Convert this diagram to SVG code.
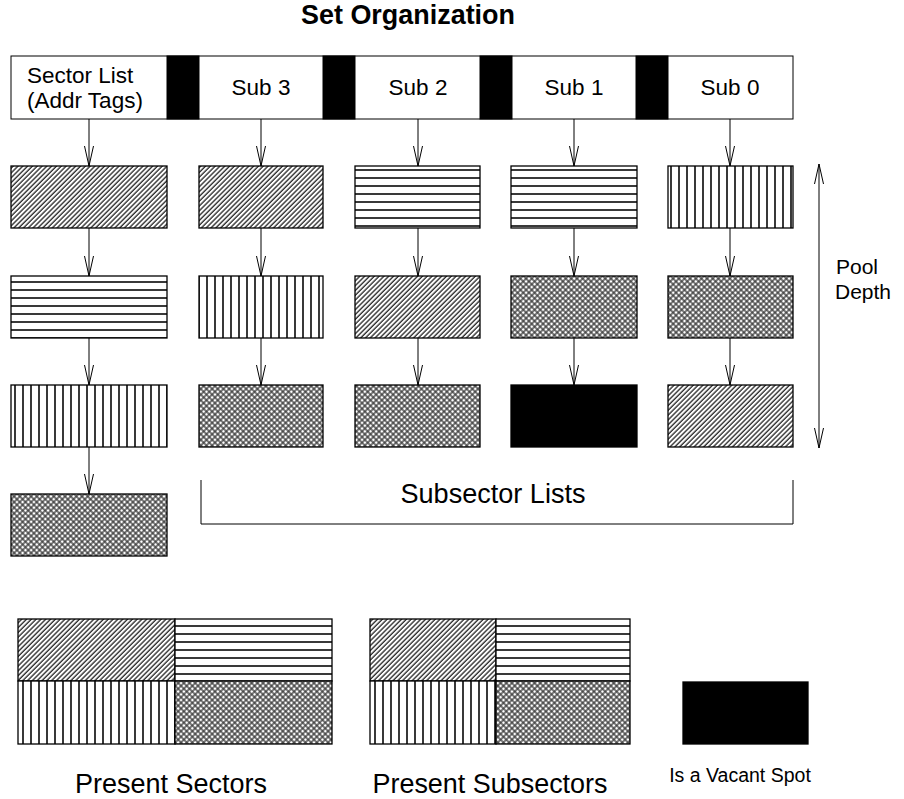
<svg xmlns="http://www.w3.org/2000/svg" width="904" height="799" viewBox="0 0 904 799">
<style>
text{font-family:"Liberation Sans",Arial,sans-serif;fill:#000}
.hdr{fill:#fff;stroke:#000;stroke-width:1}
.blk{fill:#000;stroke:#000;stroke-width:1}
.cell{stroke:#000;stroke-width:1.3}
.d{fill:url(#pd)}.h{fill:url(#ph)}.v{fill:url(#pv)}.x{fill:url(#px)}.k{fill:#000}
.ln{stroke:#000;stroke-width:1;fill:none}
.arr{stroke:#000;stroke-width:1;fill:none;marker-end:url(#ah)}
.lbl{font-size:22.5px}
.mid{text-anchor:middle}
</style>
<defs>
<pattern id="pd" patternUnits="userSpaceOnUse" width="3.4" height="10" patternTransform="rotate(45)">
<rect width="3.4" height="10" fill="#fff"/><line x1="1" y1="0" x2="1" y2="10" stroke="#222" stroke-width="1.3"/>
</pattern>
<pattern id="ph" patternUnits="userSpaceOnUse" width="10" height="8">
<rect width="10" height="8" fill="#fff"/><line x1="0" y1="2" x2="10" y2="2" stroke="#222" stroke-width="1.8"/>
</pattern>
<pattern id="pv" patternUnits="userSpaceOnUse" width="8" height="10" x="3">
<rect width="8" height="10" fill="#fff"/><line x1="4" y1="0" x2="4" y2="10" stroke="#222" stroke-width="1.8"/>
</pattern>
<pattern id="px" patternUnits="userSpaceOnUse" width="4" height="4" patternTransform="rotate(45)">
<rect width="4" height="4" fill="#fff"/><line x1="1" y1="0" x2="1" y2="4" stroke="#333" stroke-width="1.3"/><line x1="0" y1="1" x2="4" y2="1" stroke="#333" stroke-width="1.3"/>
</pattern>
<marker id="ah" markerUnits="userSpaceOnUse" viewBox="-21 -6 22 12" markerWidth="22" markerHeight="12" refX="0" refY="0" orient="auto-start-reverse">
<path d="M-20,-4.5 L0,0 L-20,4.5" fill="none" stroke="#000" stroke-width="1"/>
</marker>
</defs>

<text x="408" y="24" class="mid" font-size="27" font-weight="bold" textLength="214" lengthAdjust="spacingAndGlyphs">Set Organization</text>

<g id="header">
<rect class="hdr" x="11" y="56" width="782" height="63"/>
<rect class="blk" x="167" y="56" width="32" height="63"/>
<rect class="blk" x="323" y="56" width="32" height="63"/>
<rect class="blk" x="480" y="56" width="32" height="63"/>
<rect class="blk" x="636" y="56" width="32" height="63"/>
</g>
<g id="sector-list-head"><text class="lbl" x="27" y="83">Sector List</text><text class="lbl" x="27" y="108">(Addr Tags)</text></g>
<g id="sub3-head"><text class="lbl mid" x="261" y="95">Sub 3</text></g>
<g id="sub2-head"><text class="lbl mid" x="418" y="95">Sub 2</text></g>
<g id="sub1-head"><text class="lbl mid" x="574" y="95">Sub 1</text></g>
<g id="sub0-head"><text class="lbl mid" x="730" y="95">Sub 0</text></g>

<g id="connectors">
<line class="arr" x1="89" y1="119" x2="89" y2="166"/>
<line class="arr" x1="89" y1="228" x2="89" y2="276"/>
<line class="arr" x1="89" y1="338" x2="89" y2="385"/>
<line class="arr" x1="89" y1="447" x2="89" y2="494"/>
<line class="arr" x1="261" y1="119" x2="261" y2="166"/>
<line class="arr" x1="261" y1="228" x2="261" y2="276"/>
<line class="arr" x1="261" y1="338" x2="261" y2="385"/>
<line class="arr" x1="418" y1="119" x2="418" y2="166"/>
<line class="arr" x1="418" y1="228" x2="418" y2="276"/>
<line class="arr" x1="418" y1="338" x2="418" y2="385"/>
<line class="arr" x1="574" y1="119" x2="574" y2="166"/>
<line class="arr" x1="574" y1="228" x2="574" y2="276"/>
<line class="arr" x1="574" y1="338" x2="574" y2="385"/>
<line class="arr" x1="730" y1="119" x2="730" y2="166"/>
<line class="arr" x1="730" y1="228" x2="730" y2="276"/>
<line class="arr" x1="730" y1="338" x2="730" y2="385"/>
<line class="ln" x1="819" y1="164" x2="819" y2="448" marker-start="url(#ah)" marker-end="url(#ah)"/>
</g>

<g id="sector-col">
<rect class="cell d" x="11" y="166" width="156" height="62"/>
<rect class="cell h" x="11" y="276" width="156" height="62"/>
<rect class="cell v" x="11" y="385" width="156" height="62"/>
<rect class="cell x" x="11" y="494" width="156" height="62"/>
</g>
<g id="sub3-col">
<rect class="cell d" x="199" y="166" width="124" height="62"/>
<rect class="cell v" x="199" y="276" width="124" height="62"/>
<rect class="cell x" x="199" y="385" width="124" height="62"/>
</g>
<g id="sub2-col">
<rect class="cell h" x="355" y="166" width="125" height="62"/>
<rect class="cell d" x="355" y="276" width="125" height="62"/>
<rect class="cell x" x="355" y="385" width="125" height="62"/>
</g>
<g id="sub1-col">
<rect class="cell h" x="511" y="166" width="126" height="62"/>
<rect class="cell x" x="511" y="276" width="126" height="62"/>
<rect class="cell k" x="511" y="385" width="126" height="62"/>
</g>
<g id="sub0-col">
<rect class="cell v" x="668" y="166" width="125" height="62"/>
<rect class="cell x" x="668" y="276" width="125" height="62"/>
<rect class="cell d" x="668" y="385" width="125" height="62"/>
</g>

<g id="pool-depth"><text x="836" y="274" font-size="21">Pool</text><text x="835" y="299" font-size="21">Depth</text></g>

<g id="subsector-lists">
<path class="ln" d="M201,480 V524 H793 V480"/>
<text x="493" y="503" class="mid" font-size="27.5" textLength="185" lengthAdjust="spacingAndGlyphs">Subsector Lists</text>
</g>

<g id="present-sectors">
<rect class="cell d" x="18" y="619" width="157" height="62"/>
<rect class="cell h" x="175" y="619" width="157" height="62"/>
<rect class="cell v" x="18" y="681" width="157" height="63"/>
<rect class="cell x" x="175" y="681" width="157" height="63"/>
<text x="171" y="793" class="mid" font-size="27.5" textLength="192" lengthAdjust="spacingAndGlyphs">Present Sectors</text>
</g>
<g id="present-subsectors">
<rect class="cell d" x="370" y="619" width="126" height="62"/>
<rect class="cell h" x="496" y="619" width="134" height="62"/>
<rect class="cell v" x="370" y="681" width="126" height="63"/>
<rect class="cell x" x="496" y="681" width="134" height="63"/>
<text x="490" y="793" class="mid" font-size="27.5" textLength="235" lengthAdjust="spacingAndGlyphs">Present Subsectors</text>
</g>
<g id="vacant">
<rect class="cell k" x="683" y="682" width="125" height="62"/>
<text x="740" y="782" class="mid" font-size="19.5">Is a Vacant Spot</text>
</g>
</svg>
